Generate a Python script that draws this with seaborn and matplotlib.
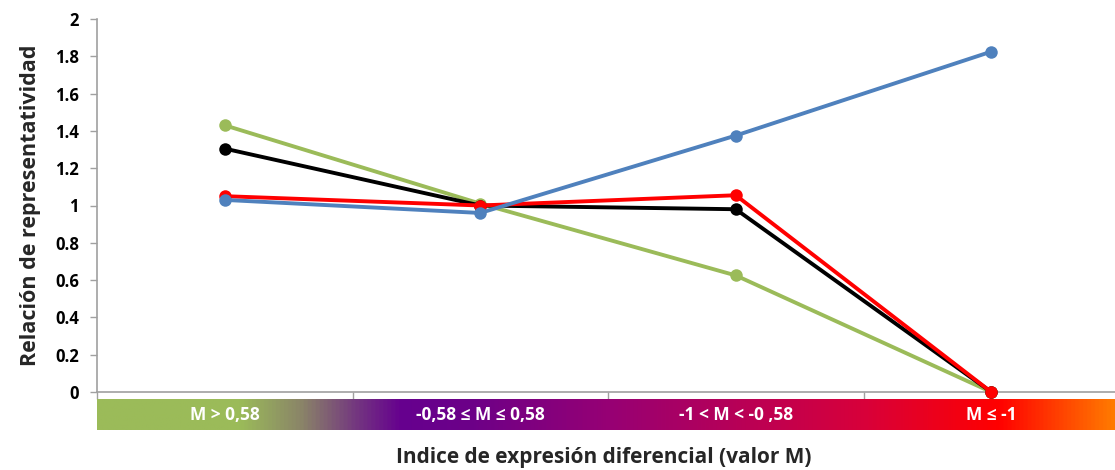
import numpy as np
import pandas as pd
import matplotlib
matplotlib.use("Agg")
import matplotlib.pyplot as plt
from matplotlib.colors import LinearSegmentedColormap
import seaborn as sns

# Expression categories (differential expression index, M value)
categories = ["M > 0,58", "-0,58 \u2264 M \u2264 0,58", "-1 < M < -0 ,58", "M \u2264 -1"]

# Representativity ratio per series
serie_verde = [1.43, 1.01, 0.625, 0.0]
serie_negra = [1.305, 1.00, 0.98, 0.0]
serie_roja = [1.05, 1.00, 1.055, 0.0]
serie_azul = [1.03, 0.96, 1.375, 1.825]

series_names = ["verde", "negra", "roja", "azul"]
series_values = [serie_verde, serie_negra, serie_roja, serie_azul]
series_colors = ["#9BBB59", "#000000", "#FF0000", "#4F81BD"]

y_ticks = [0, 0.2, 0.4, 0.6, 0.8, 1, 1.2, 1.4, 1.6, 1.8, 2]
y_tick_labels = ["0", "0.2", "0.4", "0.6", "0.8", "1", "1.2", "1.4", "1.6", "1.8", "2"]

rows = []
for name, vals in zip(series_names, series_values):
    for i, v in enumerate(vals):
        rows.append({"pos": i, "valor": v, "serie": name})
df = pd.DataFrame(rows)

sns.set_style("white")
plt.rcParams["font.family"] = ["Open Sans", "DejaVu Sans"]

W, H = 1115, 470
fig = plt.figure(figsize=(W / 100, H / 100), dpi=100)

x0, x1 = 97, 1119
ax = fig.add_axes([x0 / W, 1 - 392 / H, (x1 - x0) / W, (392 - 19) / H])

sns.lineplot(data=df, x="pos", y="valor", hue="serie", hue_order=series_names,
             palette=series_colors, marker="o", markersize=9, markeredgewidth=0,
             linewidth=2.8, legend=False, ax=ax, clip_on=False, zorder=3)

ax.set_xlim(-0.5, len(categories) - 0.5)
ax.set_ylim(0, 2)
ax.set_yticks(y_ticks)
ax.set_yticklabels(y_tick_labels, fontsize=12, fontweight="bold", color="#000000")
ax.set_xticks(np.arange(-0.5, len(categories), 1.0))
ax.set_xticklabels([])
ax.tick_params(axis="y", direction="out", length=5, width=1, color="#A0A0A0", pad=8, left=True)
ax.tick_params(axis="x", direction="out", length=5, width=1, color="#A0A0A0", bottom=True)
for side in ["top", "right"]:
    ax.spines[side].set_visible(False)
for side in ["left", "bottom"]:
    ax.spines[side].set_color("#A0A0A0")
    ax.spines[side].set_linewidth(1.2)
ax.set_xlabel("")
ax.set_ylabel("Relación de representatividad", fontsize=15.5, fontweight="bold", labelpad=10)

# Coloured band with the category labels
bar_ax = fig.add_axes([x0 / W, 1 - 430 / H, (W - x0) / W, 31 / H])
stops = [
    (0.0, "#9BBB59"),
    (0.14, "#9BBB59"),
    (0.20, "#8A8468"),
    (0.255, "#733580"),
    (0.298, "#66008F"),
    (0.366, "#6C0088"),
    (0.504, "#970074"),
    (0.755, "#D8003A"),
    (0.887, "#FF0000"),
    (1.0, "#FF7A00"),
]
cmap = LinearSegmentedColormap.from_list("banda", stops)
grad = np.linspace(0, 1, 512).reshape(1, -1)
band_right = -0.5 + len(categories) * (W - x0) / (x1 - x0)
bar_ax.imshow(grad, aspect="auto", cmap=cmap, extent=(-0.5, band_right, 0, 1))
bar_ax.set_xlim(-0.5, band_right)
bar_ax.set_ylim(0, 1)
bar_ax.axis("off")
for i, cat in enumerate(categories):
    bar_ax.text(i, 0.5, cat, ha="center", va="center", color="white",
                fontsize=12.5, fontweight="bold")

fig.text(604 / W, 1 - 458 / H, "Indice de expresión diferencial (valor M)",
         ha="center", va="center", fontsize=15, fontweight="bold")

fig.savefig("out.png", dpi=100)
